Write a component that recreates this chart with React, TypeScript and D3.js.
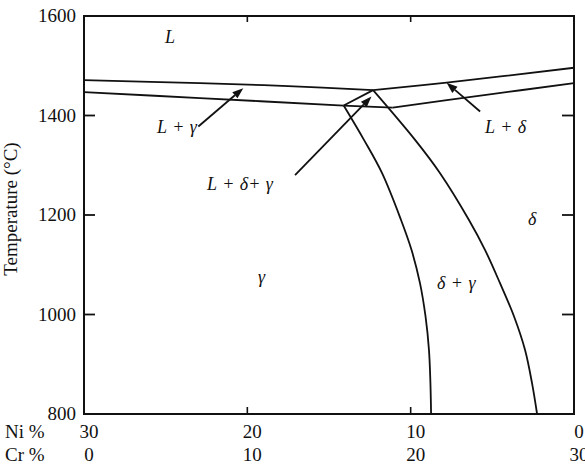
import * as d3 from 'd3';
import { useEffect, useRef } from 'react';

// boundaries, [Ni %, temperature °C]
const liquidusGamma = [[30, 1471], [22.9, 1465], [17.5, 1459], [12.3, 1451]];
const liquidusDelta = [[12.3, 1451], [7.8, 1466], [0, 1496]];
const solidusGamma = [[30, 1447], [22.9, 1435], [14.1, 1420]];
const threePhaseBase = [[14.1, 1420], [11.1, 1416]];
const threePhaseEdge = [[14.1, 1420], [12.3, 1451]];
const solidusDelta = [[11.1, 1416], [5.5, 1441], [0, 1465]];
const gammaSolvus = [[14.1, 1420], [12.86, 1351], [11.75, 1284], [10.59, 1190], [9.95, 1130], [9.43, 1063], [9.09, 996], [8.88, 929], [8.79, 862], [8.75, 800]];
const deltaSolvus = [[12.3, 1451], [9.73, 1351], [8.2, 1284], [6.43, 1190], [5.45, 1130], [4.53, 1063], [3.67, 996], [3.0, 929], [2.57, 862], [2.26, 800]];

const boundaries = [liquidusGamma, liquidusDelta, solidusGamma, threePhaseBase, threePhaseEdge, solidusDelta, gammaSolvus, deltaSolvus];

// arrows: from label to region
const arrows = [
  { from: [23.0, 1378], to: [20.25, 1455] },
  { from: [5.75, 1408], to: [7.8, 1466] },
  { from: [17.08, 1280], to: [12.4, 1438] },
];

const phaseLabels = [
  { text: 'L', ni: 25.04, t: 1546 },
  { text: 'L + γ', ni: 25.53, t: 1365 },
  { text: 'L + δ+ γ', ni: 22.47, t: 1250 },
  { text: 'L + δ', ni: 5.45, t: 1365 },
  { text: 'δ', ni: 2.82, t: 1180 },
  { text: 'δ + γ', ni: 8.39, t: 1051 },
  { text: 'γ', ni: 19.35, t: 1063 },
];

const niTicks = [30, 20, 10, 0];
const tempTicks = [1600, 1400, 1200, 1000, 800];

const App = () => {
  const svgRef = useRef(null);

  useEffect(() => {
    document.body.style.margin = '0';
    const svg = d3.select(svgRef.current);
    svg.selectAll('*').remove();

    const left = 84, right = 574, top = 16, bottom = 414;
    const x = d3.scaleLinear().domain([30, 0]).range([left, right]);
    const y = d3.scaleLinear().domain([800, 1600]).range([bottom, top]);
    const font = '"Liberation Serif", "DejaVu Serif", serif';

    // frame
    svg.append('rect')
      .attr('x', left).attr('y', top)
      .attr('width', right - left).attr('height', bottom - top)
      .attr('fill', 'none').attr('stroke', '#111').attr('stroke-width', 2);

    // inner ticks
    const inner = tempTicks.filter(d => d > 800 && d < 1600);
    svg.selectAll('.tl').data(inner).enter().append('line')
      .attr('x1', left).attr('x2', left + 11)
      .attr('y1', d => y(d)).attr('y2', d => y(d))
      .attr('stroke', '#111').attr('stroke-width', 1.8);
    svg.selectAll('.tr').data(inner).enter().append('line')
      .attr('x1', right).attr('x2', right - 12)
      .attr('y1', d => y(d)).attr('y2', d => y(d))
      .attr('stroke', '#111').attr('stroke-width', 1.8);
    const innerX = niTicks.filter(d => d > 0 && d < 30);
    svg.selectAll('.tb').data(innerX).enter().append('line')
      .attr('x1', d => x(d)).attr('x2', d => x(d))
      .attr('y1', bottom).attr('y2', bottom - 7)
      .attr('stroke', '#111').attr('stroke-width', 1.6);
    svg.selectAll('.tt').data(innerX).enter().append('line')
      .attr('x1', d => x(d)).attr('x2', d => x(d))
      .attr('y1', top).attr('y2', top + 6)
      .attr('stroke', '#111').attr('stroke-width', 1.6);

    // y tick labels
    svg.selectAll('.yl').data(tempTicks).enter().append('text')
      .attr('x', 76).attr('y', d => y(d) + 6)
      .attr('text-anchor', 'end')
      .attr('font-family', font).attr('font-size', 19)
      .attr('fill', '#111')
      .text(d => d);

    // x tick labels, two rows
    svg.selectAll('.nl').data(niTicks).enter().append('text')
      .attr('x', d => x(d) + 5).attr('y', 438)
      .attr('text-anchor', 'middle')
      .attr('font-family', font).attr('font-size', 19).attr('fill', '#111')
      .text(d => d);
    svg.selectAll('.cl').data(niTicks).enter().append('text')
      .attr('x', d => x(d) + 5).attr('y', 461)
      .attr('text-anchor', 'middle')
      .attr('font-family', font).attr('font-size', 19).attr('fill', '#111')
      .text(d => 30 - d);
    svg.append('text').attr('x', 5).attr('y', 438)
      .attr('font-family', font).attr('font-size', 19).attr('fill', '#111')
      .text('Ni %');
    svg.append('text').attr('x', 5).attr('y', 461)
      .attr('font-family', font).attr('font-size', 19).attr('fill', '#111')
      .text('Cr %');

    // axis title
    svg.append('text')
      .attr('transform', `translate(17, 209) rotate(-90)`)
      .attr('text-anchor', 'middle')
      .attr('font-family', font).attr('font-size', 19).attr('fill', '#111')
      .text('Temperature (°C)');

    // phase boundaries
    const line = d3.line().x(d => x(d[0])).y(d => y(d[1])).curve(d3.curveCatmullRom.alpha(0.5));
    svg.selectAll('.b').data(boundaries).enter().append('path')
      .attr('d', d => line(d))
      .attr('fill', 'none').attr('stroke', '#111').attr('stroke-width', 1.8);

    // arrows
    arrows.forEach(a => {
      const x1 = x(a.from[0]), y1 = y(a.from[1]);
      const x2 = x(a.to[0]), y2 = y(a.to[1]);
      const ang = Math.atan2(y2 - y1, x2 - x1);
      const len = 11, half = 4;
      const bx = x2 - len * Math.cos(ang), by = y2 - len * Math.sin(ang);
      svg.append('line')
        .attr('x1', x1).attr('y1', y1).attr('x2', bx).attr('y2', by)
        .attr('stroke', '#111').attr('stroke-width', 1.8);
      svg.append('path')
        .attr('d', `M${x2},${y2}L${bx + half * Math.sin(ang)},${by - half * Math.cos(ang)}L${bx - half * Math.sin(ang)},${by + half * Math.cos(ang)}Z`)
        .attr('fill', '#111');
    });

    // phase labels
    svg.selectAll('.pl').data(phaseLabels).enter().append('text')
      .attr('x', d => x(d.ni)).attr('y', d => y(d.t))
      .attr('font-family', font).attr('font-size', 18)
      .attr('font-style', 'italic').attr('fill', '#111')
      .attr('word-spacing', 1)
      .attr('xml:space', 'preserve')
      .text(d => d.text);
  }, []);

  return (
    <svg ref={svgRef} width={585} height={467} style={{ display: 'block', background: '#fff' }}></svg>
  );
};

export default App;
